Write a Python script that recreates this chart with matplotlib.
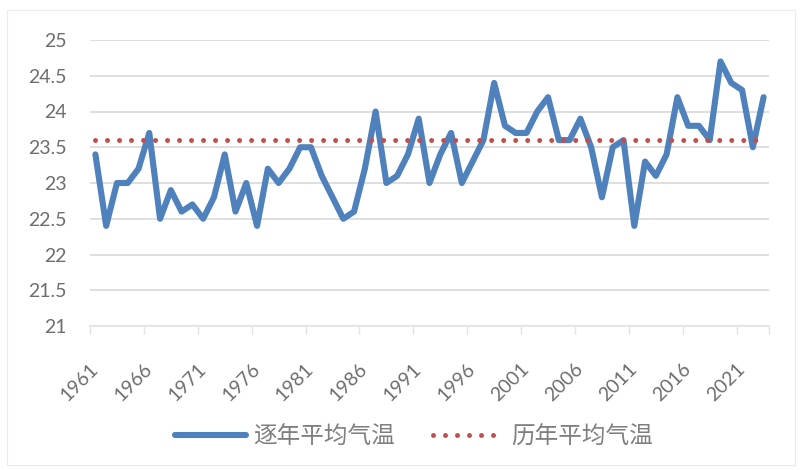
import matplotlib
matplotlib.use("Agg")
import matplotlib.pyplot as plt
from matplotlib.patches import Rectangle
from matplotlib.ticker import FixedLocator, NullFormatter

years = list(range(1961, 2024))
annual_temp = [23.4, 22.4, 23.0, 23.0, 23.2, 23.7, 22.5, 22.9, 22.6, 22.7,
               22.5, 22.8, 23.4, 22.6, 23.0, 22.4, 23.2, 23.0, 23.2, 23.5,
               23.5, 23.1, 22.8, 22.5, 22.6, 23.2, 24.0, 23.0, 23.1, 23.4,
               23.9, 23.0, 23.4, 23.7, 23.0, 23.3, 23.6, 24.4, 23.8, 23.7,
               23.7, 24.0, 24.2, 23.6, 23.6, 23.9, 23.5, 22.8, 23.5, 23.6,
               22.4, 23.3, 23.1, 23.4, 24.2, 23.8, 23.8, 23.6, 24.7, 24.4,
               24.3, 23.5, 24.2]
mean_temp = 23.6
series_names = ["逐年平均气温", "历年平均气温"]
y_ticks = [21, 21.5, 22, 22.5, 23, 23.5, 24, 24.5, 25]
x_label_years = list(range(1961, 2022, 5))

W, H = 802, 470
fig = plt.figure(figsize=(W / 100, H / 100), dpi=100)
fig.patches.append(Rectangle((7 / W, 5 / H), 788 / W, 455 / H, transform=fig.transFigure,
                             fill=False, edgecolor="#EBEBEB", linewidth=0.8))

ax = fig.add_axes([90 / W, (H - 326) / H, (769 - 90) / W, (326 - 40) / H])

idx = list(range(len(years)))
ax.plot(idx, annual_temp, color="#4F81BD", linewidth=4.4, solid_joinstyle="round",
        solid_capstyle="round", label=series_names[0], zorder=3)
ax.plot(idx, [mean_temp] * len(years), color="#C0504D", linewidth=3.6,
        linestyle=(0, (0.001, 2.4)), dash_capstyle="round", label=series_names[1], zorder=4)

ax.set_xlim(-0.5, len(years) - 0.5)
ax.set_ylim(21, 25)

ax.set_yticks(y_ticks)
ax.set_yticklabels([f"{v:g}" for v in y_ticks], fontfamily="Lato", fontsize=14, color="#6E6E6E")
ax.tick_params(axis="y", length=0, pad=17)
ax.grid(axis="y", color="#D9D9D9", linewidth=1.2, zorder=0)

label_pos = [years.index(y) for y in x_label_years]
ax.set_xticks(label_pos)
ax.set_xticklabels([str(y) for y in x_label_years], fontfamily="Lato", fontsize=14,
                   color="#6E6E6E", rotation=45, ha="right", va="center",
                   rotation_mode="anchor")
ax.tick_params(axis="x", which="major", length=0, pad=29)
minor = [i - 0.5 for i in range(0, len(years), 5)] + [len(years) - 0.5]
ax.xaxis.set_minor_locator(FixedLocator(minor))
ax.xaxis.set_minor_formatter(NullFormatter())
ax.tick_params(axis="x", which="minor", length=6, width=1, color="#E3E3E3")

for s in ["top", "right", "left"]:
    ax.spines[s].set_visible(False)
ax.spines["bottom"].set_color("#E3E3E3")
ax.spines["bottom"].set_linewidth(1.2)

leg = ax.legend(loc="center", bbox_to_anchor=(414 / W, 1 - 437 / H),
                bbox_transform=fig.transFigure, ncol=2, frameon=False,
                handlelength=3.0, handletextpad=0.3, columnspacing=1.6,
                prop={"family": ["Noto Sans CJK SC", "DejaVu Sans"], "size": 17})
for t in leg.get_texts():
    t.set_color("#7F7F7F")

fig.savefig("out.png", dpi=100)
